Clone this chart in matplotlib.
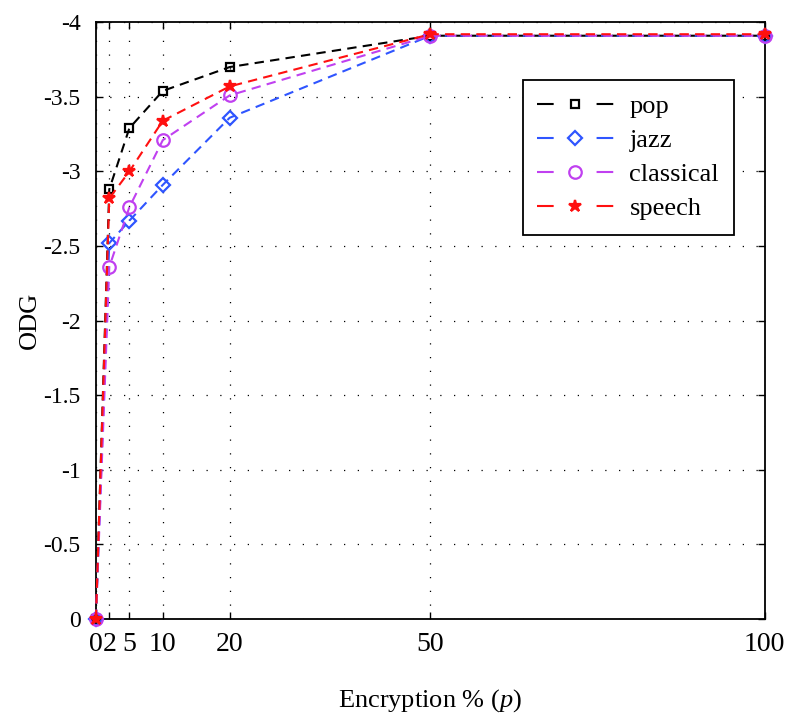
import matplotlib.pyplot as plt
from matplotlib.lines import Line2D

plt.rcParams['font.family'] = ['Liberation Serif', 'DejaVu Serif']
plt.rcParams['mathtext.fontset'] = 'custom'
plt.rcParams['mathtext.it'] = 'Liberation Serif:italic'

p = [0, 2, 5, 10, 20, 50, 100]
pop = [0, -2.88, -3.29, -3.54, -3.70, -3.91, -3.91]
jazz = [0, -2.52, -2.67, -2.91, -3.36, -3.91, -3.91]
classical = [0, -2.36, -2.76, -3.21, -3.51, -3.91, -3.91]
speech = [0, -2.82, -3.00, -3.34, -3.57, -3.92, -3.92]

names = ['pop', 'jazz', 'classical', 'speech']
colors = ['black', '#2f55ff', '#c040f0', '#ff1010']
markers = ['s', 'D', 'o', '*']
msizes = [6, 7, 9, 9]

xticks = [0, 2, 5, 10, 20, 50, 100]
xticklabels = ['0', '2', '5', '10', '20', '50', '100']
yticks = [0, -0.5, -1, -1.5, -2, -2.5, -3, -3.5, -4]
yticklabels = ['0', '-0.5', '-1', '-1.5', '-2', '-2.5', '-3', '-3.5', '-4']

fig = plt.figure(figsize=(7.86, 7.19), dpi=100)
ax = fig.add_axes([0.122, 0.139, 0.851, 0.830])

lw = 1.5
dash = (0, (4.5, 3))
handles = []
for ys, name, c, m, ms in zip([pop, jazz, classical, speech], names, colors, markers, msizes):
    mfc = c if m == '*' else 'none'
    ax.plot(p, ys, linestyle=dash, color=c, lw=lw, marker=m, ms=ms,
            mfc=mfc, mew=1.6, clip_on=False, zorder=3)
    # legend proxy: dash - marker - dash
    handles.append(Line2D([], [], linestyle=(0, (8, 20.6)), color=c, lw=lw,
                          marker=m, ms=ms, mfc=mfc, mew=1.6, label=name))

ax.set_xlim(0, 100)
ax.set_ylim(0, -4)
ax.set_xticks(xticks)
ax.set_xticklabels(xticklabels)
ax.set_yticks(yticks)
ax.set_yticklabels(yticklabels)
ax.tick_params(direction='in', length=5, width=1, top=True, right=True)
ax.tick_params(axis='x', labelsize=20, pad=9)
ax.tick_params(axis='y', labelsize=17, pad=11)
ax.grid(True, linestyle=(0, (1, 10)), color='black', lw=0.9)
for s in ax.spines.values():
    s.set_linewidth(1.3)

ax.set_xlabel('Encryption % ($p$)', fontsize=19, labelpad=22)
ax.set_ylabel('ODG', fontsize=19, labelpad=2)

leg = ax.legend(handles=handles, loc='upper right', bbox_to_anchor=(0.973, 0.925),
                fontsize=19, handlelength=2.9, handletextpad=0.6, numpoints=1,
                fancybox=False, framealpha=1, edgecolor='black',
                borderpad=0.55, labelspacing=0.4)
leg.get_frame().set_linewidth(1.3)

fig.savefig('out.png', dpi=100)
